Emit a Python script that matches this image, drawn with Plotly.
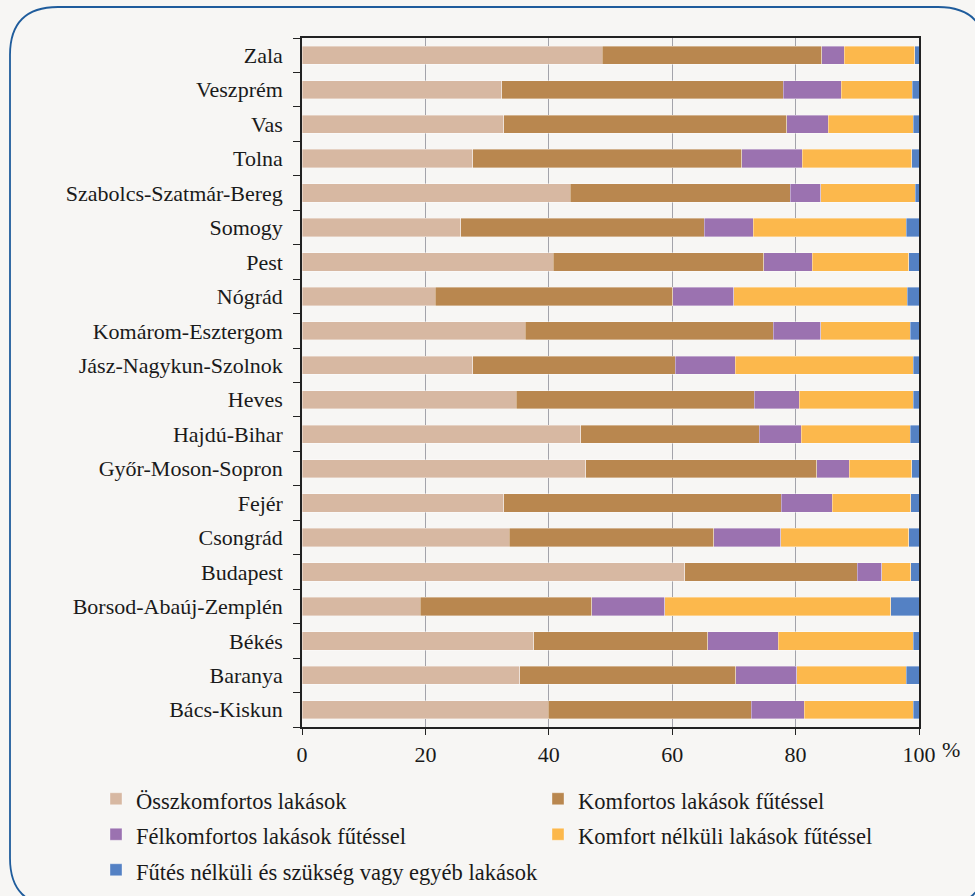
import plotly.graph_objects as go

counties = ["Bács-Kiskun", "Baranya", "Békés", "Borsod-Abaúj-Zemplén", "Budapest",
            "Csongrád", "Fejér", "Győr-Moson-Sopron", "Hajdú-Bihar", "Heves",
            "Jász-Nagykun-Szolnok", "Komárom-Esztergom", "Nógrád", "Pest", "Somogy",
            "Szabolcs-Szatmár-Bereg", "Tolna", "Vas", "Veszprém", "Zala"]

osszkomfortos = [39.9, 35.3, 37.6, 19.2, 62.0, 33.6, 32.7, 46.0, 45.2, 34.7,
                 27.7, 36.2, 21.6, 40.7, 25.7, 43.5, 27.7, 32.7, 32.4, 48.7]
komfortos = [32.9, 35.0, 28.2, 27.8, 28.0, 33.1, 45.0, 37.4, 28.9, 38.6,
             32.8, 40.2, 38.5, 34.1, 39.5, 35.6, 43.6, 45.9, 45.6, 35.5]
felkomfortos = [8.6, 9.9, 11.4, 11.8, 4.0, 10.9, 8.2, 5.3, 6.8, 7.3,
                9.7, 7.7, 9.9, 7.9, 7.9, 5.0, 9.8, 6.7, 9.4, 3.7]
komfort_nelkuli = [17.7, 17.7, 21.9, 36.6, 4.7, 20.7, 12.8, 10.1, 17.7, 18.5,
                   28.9, 14.5, 28.1, 15.6, 24.8, 15.3, 17.7, 13.8, 11.5, 11.4]
futes_nelkuli = [0.9, 2.1, 0.9, 4.6, 1.3, 1.7, 1.3, 1.2, 1.4, 0.9,
                 0.9, 1.4, 1.9, 1.7, 2.1, 0.6, 1.2, 0.9, 1.1, 0.7]

series_names = ["Összkomfortos lakások", "Komfortos lakások fűtéssel",
                "Félkomfortos lakások fűtéssel", "Komfort nélküli lakások fűtéssel",
                "Fűtés nélküli és szükség vagy egyéb lakások"]
series_values = [osszkomfortos, komfortos, felkomfortos, komfort_nelkuli, futes_nelkuli]
colors = ["#d7b8a2", "#b9874f", "#9b72b0", "#fcb84c", "#5481c4"]

x_ticks = [0, 20, 40, 60, 80, 100]

FONT = '"Liberation Serif", "Times New Roman", serif'
FS = 22
BG = "#f7f6f4"
TXT = "#1a1a1a"

fig = go.Figure()
for name, vals, col in zip(series_names, series_values, colors):
    fig.add_trace(go.Bar(
        y=counties, x=vals, name=f"<span style='font-size:22.5px'>{name}</span>",
        orientation="h",
        marker=dict(color=col, line=dict(color="rgba(255,255,255,0.6)", width=0.6)),
    ))

# plot area in pixels
L, R, T, B = 302, 919, 38, 727
W, H = R - L, B - T

def px(x):
    return (x - L) / W

def py(y):
    return (B - y) / H

# rounded outer border
x0, x1, y0, y1, r = 10, 986, 7, 906, 48
path = (f"M {px(x0+r)},{py(y0)} L {px(x1-r)},{py(y0)} "
        f"Q {px(x1)},{py(y0)} {px(x1)},{py(y0+r)} "
        f"L {px(x1)},{py(y1-r)} Q {px(x1)},{py(y1)} {px(x1-r)},{py(y1)} "
        f"L {px(x0+r)},{py(y1)} Q {px(x0)},{py(y1)} {px(x0)},{py(y1-r)} "
        f"L {px(x0)},{py(y0+r)} Q {px(x0)},{py(y0)} {px(x0+r)},{py(y0)} Z")

fig.update_layout(
    width=975, height=896,
    paper_bgcolor=BG, plot_bgcolor=BG,
    barmode="stack", bargap=0.47,
    margin=dict(l=L, r=975 - R, t=T, b=896 - B, autoexpand=False),
    font=dict(family=FONT, size=FS, color=TXT),
    showlegend=True,
    legend=dict(
        orientation="h", x=px(96), xanchor="left", y=py(776), yanchor="top",
        entrywidth=397, entrywidthmode="pixels",
        font=dict(family=FONT, size=25, color=TXT),
        bgcolor="rgba(0,0,0,0)", traceorder="normal", tracegroupgap=0,
        itemwidth=30,
    ),
    xaxis=dict(
        range=[0, 100], tickvals=x_ticks, ticktext=[str(v) for v in x_ticks],
        showgrid=True, gridcolor="#a3a3aa", gridwidth=1,
        showline=True, linecolor="#222222", linewidth=1.5, mirror=True,
        ticks="outside", ticklen=6, tickcolor="#222222", zeroline=False,
        tickfont=dict(family=FONT, size=FS, color=TXT),
        ticklabelstandoff=1,
    ),
    yaxis=dict(
        categoryorder="array", categoryarray=counties,
        showline=True, linecolor="#222222", linewidth=1.5, mirror=True,
        ticks="outside", ticklen=7, tickcolor="#222222", tickson="boundaries",
        showgrid=False,
        tickfont=dict(family=FONT, size=FS, color=TXT),
        ticklabelstandoff=13,
    ),
    shapes=[dict(type="path", path=path, xref="paper", yref="paper",
                 line=dict(color="#1f5c9c", width=1.8), fillcolor="rgba(0,0,0,0)",
                 layer="below")],
    annotations=[dict(text="%", x=px(962), y=py(764), xref="paper", yref="paper",
                      showarrow=False, font=dict(family=FONT, size=FS, color=TXT))],
)

fig.write_html("out.html", config={"displayModeBar": False},
               post_script="document.body.style.margin='0';")
